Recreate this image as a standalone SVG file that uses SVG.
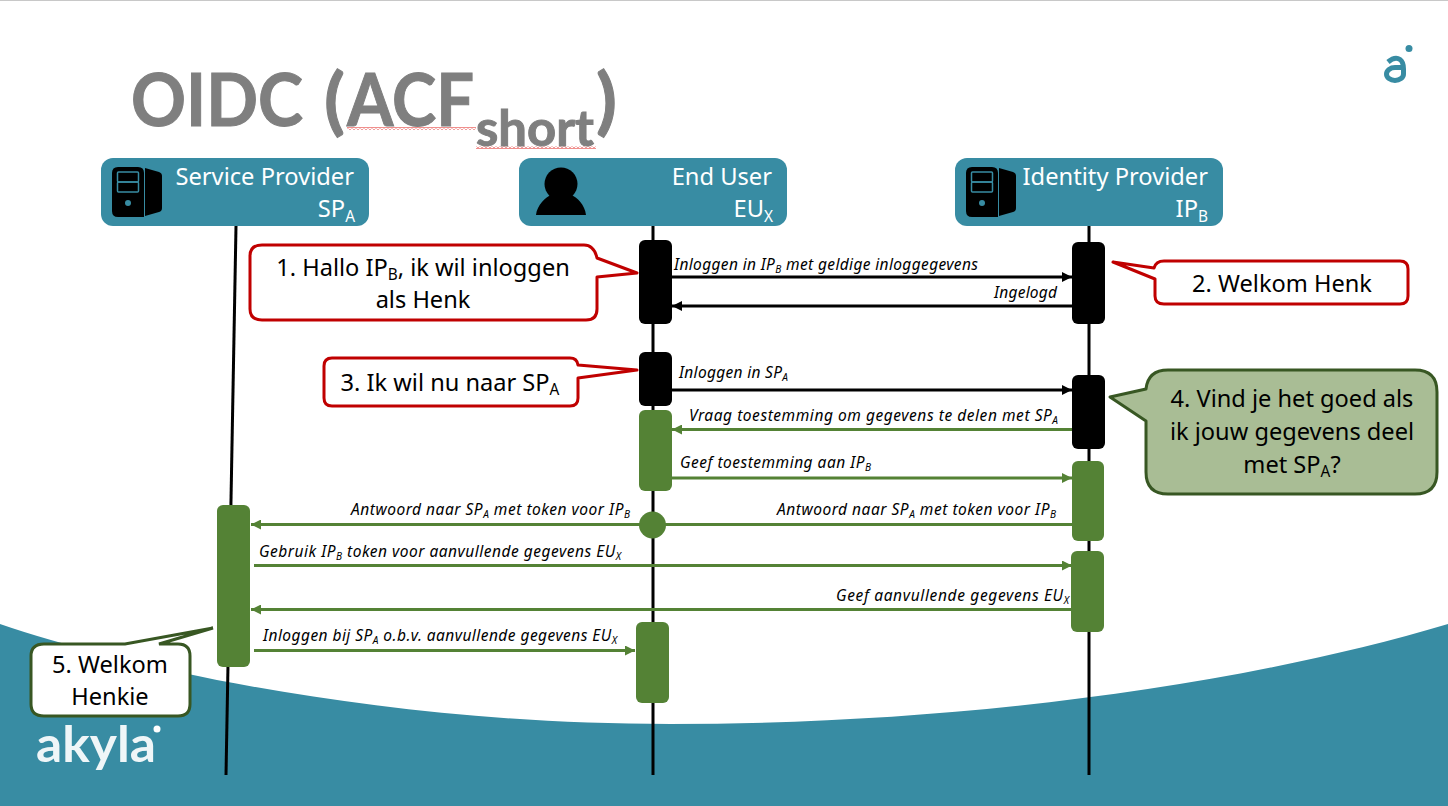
<svg xmlns="http://www.w3.org/2000/svg" width="1448" height="806" viewBox="0 0 1448 806">
<style>
text{font-family:"Noto Sans","Open Sans",sans-serif}
.hdr{fill:#388ca3}
.ht{fill:#fff;font-size:23.7px;text-anchor:end}
.lbl{font-size:15.500px;font-style:italic;fill:#000}
.co{font-size:23.600px;fill:#000;text-anchor:middle}
.sub{font-size:65%}
.ttl{font-family:"Lato","Open Sans",sans-serif;font-weight:700;fill:#7f7f7f;font-size:73px;stroke:#7f7f7f;stroke-width:1}
.life{stroke:#000;stroke-width:3;fill:none}
.blk{fill:#000}
.grn{fill:#548235}
.ab{stroke:#000;stroke-width:3;fill:none;marker-end:url(#ak)}
.ag{stroke:#548235;stroke-width:3;fill:none;marker-end:url(#ag)}
.red{fill:#fff;stroke:#c00000;stroke-width:3;stroke-linejoin:round}
</style>
<defs>
<marker id="ak" markerUnits="userSpaceOnUse" markerWidth="11" markerHeight="10" refX="10" refY="5" orient="auto"><path d="M0 0L10 5L0 10z" fill="#000"/></marker>
<marker id="ag" markerUnits="userSpaceOnUse" markerWidth="11" markerHeight="10" refX="10" refY="5" orient="auto"><path d="M0 0L10 5L0 10z" fill="#548235"/></marker>
<pattern id="wavy" patternUnits="userSpaceOnUse" width="4" height="3"><path d="M0 2.500L2 .5L4 2.500" fill="none" stroke="#e0201c" stroke-width="1"/></pattern>
<g id="srv"><path d="M6 0H26Q32 0 32 6V50H6Q0 50 0 44V6Q0 0 6 0Z" fill="#000"/><path d="M33 1L47 5Q50 6 50 9V41Q50 44 47 45L33 49Z" fill="#000"/><rect x="5.500" y="5" width="21" height="10" rx="1" fill="none" stroke="#388ca3" stroke-width="1.500"/><rect x="5.500" y="15" width="21" height="10" rx="1" fill="none" stroke="#388ca3" stroke-width="1.500"/><circle cx="16" cy="36" r="3" fill="#388ca3"/></g>
</defs>
<rect width="1448" height="806" fill="#fff"/>
<rect width="1448" height="1" fill="#c8c8c8"/>
<path d="M0 624C130 668 380 724 670 724C960 724 1240 686 1448 624V806H0Z" fill="#388ca3"/>
<g id="title">
<text class="ttl" x="131" y="126" textLength="172" lengthAdjust="spacingAndGlyphs">OIDC</text>
<text class="ttl" x="324" y="126" textLength="21" lengthAdjust="spacingAndGlyphs">(</text>
<text class="ttl" x="347" y="126" textLength="127" lengthAdjust="spacingAndGlyphs">ACF</text>
<text class="ttl" x="476" y="146" style="font-size:50px" textLength="118" lengthAdjust="spacingAndGlyphs">short</text>
<text class="ttl" x="596" y="126" textLength="21" lengthAdjust="spacingAndGlyphs">)</text>
<rect x="347" y="127" width="129" height="3" fill="url(#wavy)"/>
<rect x="476" y="146" width="120" height="3" fill="url(#wavy)"/>
</g>
<g id="logo-top" fill="none" stroke="#388ca3"><path d="M1388 62Q1395 56 1400 59.500Q1403.500 62 1403.500 69V74A8.500 6.500 0 1 1 1395 67.500H1403" stroke-width="5"/><circle cx="1409" cy="48.500" r="3.500" fill="#388ca3" stroke="none"/></g>
<g id="logo-bottom" fill="#fff"><text x="36" y="762" font-size="50" font-weight="700" style="font-family:'Lato',sans-serif" fill-opacity=".92" textLength="120" lengthAdjust="spacingAndGlyphs">akyla</text><circle cx="157" cy="729" r="3.500"/></g>
<g id="lifelines">
<path class="life" d="M236 226L226 775"/>
<path class="life" d="M653 226V775"/>
<path class="life" d="M1089 226V775"/>
</g>
<g id="node-sp"><rect class="hdr" x="101" y="158" width="268" height="68" rx="12"/><use href="#srv" x="112" y="167"/><text class="ht" x="354" y="185">Service Provider</text><text class="ht" x="355" y="217">SP<tspan class="sub" dy="5">A</tspan></text></g>
<g id="node-eu"><rect class="hdr" x="519" y="158" width="268" height="68" rx="12"/><circle cx="561" cy="184" r="16.500" fill="#000"/><path d="M536 215C537 205 546 197 551 195A17 17 0 0 0 571 195C577 197 585 205 586 215Z" fill="#000"/><text class="ht" x="772" y="185">End User</text><text class="ht" x="773" y="217">EU<tspan class="sub" dy="5">X</tspan></text></g>
<g id="node-ip"><rect class="hdr" x="955" y="158" width="268" height="68" rx="12"/><use href="#srv" x="966" y="167"/><text class="ht" x="1208" y="185">Identity Provider</text><text class="ht" x="1208" y="217">IP<tspan class="sub" dy="5">B</tspan></text></g>
<g id="activations">
<rect class="blk" x="639" y="240" width="33" height="84" rx="6"/>
<rect class="blk" x="1072" y="242" width="33" height="82" rx="6"/>
<rect class="blk" x="639" y="352" width="33" height="54" rx="6"/>
<rect class="blk" x="1072" y="375" width="33" height="74" rx="6"/>
<rect class="grn" x="639" y="410" width="33" height="81" rx="6"/>
<rect class="grn" x="1072" y="461" width="32" height="80" rx="6"/>
<rect class="grn" x="1071" y="551" width="33" height="81" rx="6"/>
<rect class="grn" x="217" y="505" width="33" height="162" rx="6"/>
<rect class="grn" x="636" y="622" width="33" height="81" rx="6"/>
<circle class="grn" cx="652.500" cy="525" r="13.500"/>
</g>
<g id="connectors">
<path class="ab" d="M672 277H1072"/>
<path class="ab" d="M1072 306H672"/>
<path class="ab" d="M672 390H1072"/>
<path class="ag" d="M1072 429.500H672"/>
<path class="ag" d="M672 478H1072"/>
<path class="ag" d="M1072 524.500H251"/>
<path class="ag" d="M254 565.500H1072"/>
<path class="ag" d="M1071 609.500H251"/>
<path class="ag" d="M254 650.500H635"/>
</g>
<g id="labels">
<text class="lbl" x="674" y="270" textLength="304">Inloggen in IP<tspan class="sub" dy="3">B</tspan><tspan dy="-3"> met geldige inloggegevens</tspan></text>
<text class="lbl" x="994" y="298" textLength="63">Ingelogd</text>
<text class="lbl" x="679" y="378" textLength="109">Inloggen in SP<tspan class="sub" dy="3">A</tspan></text>
<text class="lbl" x="689" y="421" textLength="369">Vraag toestemming om gegevens te delen met SP<tspan class="sub" dy="3">A</tspan></text>
<text class="lbl" x="680" y="468" textLength="191">Geef toestemming aan IP<tspan class="sub" dy="3">B</tspan></text>
<text class="lbl" x="351" y="515" textLength="279">Antwoord naar SP<tspan class="sub" dy="3">A</tspan><tspan dy="-3"> met token voor IP</tspan><tspan class="sub" dy="3">B</tspan></text>
<text class="lbl" x="777" y="515" textLength="279">Antwoord naar SP<tspan class="sub" dy="3">A</tspan><tspan dy="-3"> met token voor IP</tspan><tspan class="sub" dy="3">B</tspan></text>
<text class="lbl" x="259" y="557" textLength="362">Gebruik IP<tspan class="sub" dy="3">B</tspan><tspan dy="-3"> token voor aanvullende gegevens EU</tspan><tspan class="sub" dy="3">X</tspan></text>
<text class="lbl" x="836" y="601" textLength="233">Geef aanvullende gegevens EU<tspan class="sub" dy="3">X</tspan></text>
<text class="lbl" x="263" y="641" textLength="354">Inloggen bij SP<tspan class="sub" dy="3">A</tspan><tspan dy="-3"> o.b.v. aanvullende gegevens EU</tspan><tspan class="sub" dy="3">X</tspan></text>
</g>
<g id="callout-1"><path class="red" d="M262 245H584Q594 245 597 258L637 273L597 277V309Q597 320 586 320H262Q250 320 250 309V256Q250 245 262 245Z"/><text class="co" x="423" y="276">1. Hallo IP<tspan class="sub" dy="4">B</tspan><tspan dy="-4">, ik wil inloggen</tspan></text><text class="co" x="423" y="308">als Henk</text></g>
<g id="callout-2"><path class="red" d="M1164 261H1400Q1408 261 1408 269V296Q1408 304 1400 304H1164Q1155 304 1155 296V279L1113 262L1154 268Q1156 261 1164 261Z"/><text class="co" x="1282" y="292">2. Welkom Henk</text></g>
<g id="callout-3"><path class="red" d="M332 358H570Q577 358 578 365L637 370L578 378V398Q578 406 570 406H332Q324 406 324 398V366Q324 358 332 358Z"/><text class="co" x="450" y="391">3. Ik wil nu naar SP<tspan class="sub" dy="4">A</tspan></text></g>
<g id="callout-4"><path d="M1168 370H1415Q1437 370 1437 392V472Q1437 494 1415 494H1168Q1146 494 1146 472V421L1110 397L1146 389Q1148 370 1168 370Z" fill="#a9bd95" stroke="#385723" stroke-width="3" stroke-linejoin="round"/><text class="co" x="1292" y="407">4. Vind je het goed als</text><text class="co" x="1292" y="440">ik jouw gegevens deel</text><text class="co" x="1292" y="473">met SP<tspan class="sub" dy="4">A</tspan><tspan dy="-4">?</tspan></text></g>
<g id="callout-5"><path d="M44 644H125L213 628L159 644H178Q190 644 190 656V704Q190 716 178 716H44Q31 716 31 704V656Q31 644 44 644Z" fill="#fff" stroke="#385723" stroke-width="3"/><text class="co" x="110" y="673">5. Welkom</text><text class="co" x="110" y="705">Henkie</text></g>
</svg>
